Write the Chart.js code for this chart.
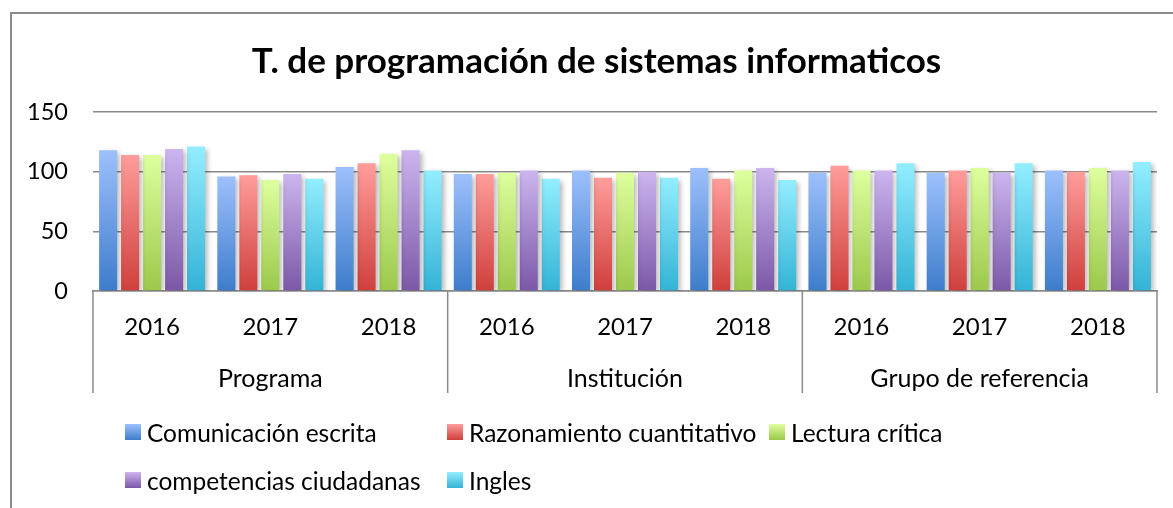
<!DOCTYPE html>
<html>
<head>
<meta charset="utf-8">
<script src="https://cdn.jsdelivr.net/npm/chart.js@4.4.1/dist/chart.umd.min.js"></script>
<style>
  html, body { margin: 0; padding: 0; background: #fff; overflow: hidden; }
  #wrap { position: relative; width: 1173px; height: 508px; }
  #frame { position: absolute; left: 10px; top: 12px; width: 1250px; height: 600px; border: 2px solid #8c8c8c; box-sizing: border-box; }
  canvas { position: absolute; left: 0; top: 0; }
  .lg { position: absolute; display: flex; align-items: center; height: 30px; font-family: Lato, sans-serif; font-size: 24.5px; color: #000; white-space: nowrap; }
  .sw { width: 16px; height: 16px; margin-right: 6px; }
</style>
</head>
<body>
<div id="wrap">
  <div id="frame"></div>
  <canvas id="c" width="1173" height="508"></canvas>
  <div id="legend"></div>
</div>
<script>
const years = ['2016', '2017', '2018', '2016', '2017', '2018', '2016', '2017', '2018'];
const groups = ['Programa', 'Institución', 'Grupo de referencia'];
const seriesNames = ['Comunicación escrita', 'Razonamiento cuantitativo', 'Lectura crítica', 'competencias ciudadanas', 'Ingles'];
const comunicacion = [118, 96, 104, 98, 101, 103, 99, 99, 101];
const razonamiento = [114, 97, 107, 98, 95, 94, 105, 101, 100];
const lectura = [114, 93, 115, 99, 99, 101, 101, 103, 103];
const competencias = [119, 98, 118, 101, 100, 103, 101, 99, 101];
const ingles = [121, 94, 101, 94, 95, 93, 107, 107, 108];
const yTicks = [0, 50, 100, 150];

const palette = [
  ['#9DC0FC', '#3D7CCB'],
  ['#FF9D9B', '#CF3F3C'],
  ['#DEFF9E', '#9CC84B'],
  ['#CCB5EF', '#7B58A7'],
  ['#93EEFF', '#33B3D6']
];
const seriesData = [comunicacion, razonamiento, lectura, competencias, ingles];

function barGradient(idx) {
  return function (ctx) {
    const chart = ctx.chart;
    const ca = chart.chartArea;
    if (!ca || ctx.raw === undefined) return palette[idx][1];
    const ys = chart.scales.y;
    const yTop = ys.getPixelForValue(ctx.raw);
    const yBot = ys.getPixelForValue(0);
    const g = chart.ctx.createLinearGradient(0, yTop, 0, yBot);
    g.addColorStop(0, palette[idx][0]);
    g.addColorStop(1, palette[idx][1]);
    return g;
  };
}

const datasets = seriesData.map((d, i) => ({
  label: seriesNames[i],
  data: d,
  backgroundColor: barGradient(i),
  borderWidth: 0,
  categoryPercentage: 0.93,
  barPercentage: 0.82
}));

const FONT = 'Lato';
const AXIS_GRAY = '#8a8a8a';

const shadowPlugin = {
  id: 'shadow',
  beforeDatasetsDraw(chart) {
    const c = chart.ctx;
    c.save();
    c.shadowColor = 'rgba(0,0,0,0.28)';
    c.shadowBlur = 5;
    c.shadowOffsetX = 3;
    c.shadowOffsetY = 2;
  },
  afterDatasetsDraw(chart) {
    chart.ctx.restore();
  }
};

const separatorPlugin = {
  id: 'separators',
  afterLayout(chart) {
    // centre the title over the framed chart box like the original
    if (chart.titleBlock) chart.titleBlock.left = 36;
  },
  afterDraw(chart) {
    const xs = chart.scales.x;
    const x2 = chart.scales.x2;
    const c = chart.ctx;
    c.save();
    c.strokeStyle = AXIS_GRAY;
    c.lineWidth = 1.5;
    const n = years.length;
    for (let i = 0; i <= n; i += 3) {
      const px = xs.left + i * xs.width / n;
      c.beginPath();
      c.moveTo(px, xs.top);
      c.lineTo(px, x2.bottom);
      c.stroke();
    }
    c.restore();
  }
};

new Chart(document.getElementById('c'), {
  type: 'bar',
  data: { labels: years, datasets },
  plugins: [shadowPlugin, separatorPlugin],
  options: {
    responsive: false,
    animation: false,
    layout: { padding: { left: 0, right: 16, top: 0, bottom: 115 } },
    plugins: {
      legend: { display: false },
      tooltip: { enabled: false },
      title: {
        display: true,
        text: 'T. de programación de sistemas informaticos',
        color: '#000',
        font: { family: FONT, size: 35, weight: 'bold' },
        padding: { top: 41, bottom: 29 }
      }
    },
    scales: {
      y: {
        min: 0,
        max: 150,
        afterBuildTicks(scale) { scale.ticks = yTicks.map(v => ({ value: v })); },
        afterFit(scale) { scale.width = 93; },
        ticks: { color: '#000', font: { family: FONT, size: 23.5 }, padding: 25 },
        grid: { color: AXIS_GRAY, lineWidth: 1.5, drawTicks: false },
        border: { display: false }
      },
      x: {
        position: 'bottom',
        afterFit(scale) { scale.height = 52; },
        ticks: { color: '#000', font: { family: FONT, size: 24 }, padding: 22, maxRotation: 0, autoSkip: false },
        grid: { display: false, drawTicks: false },
        border: { display: true, color: AXIS_GRAY, width: 1.5 }
      },
      x2: {
        type: 'category',
        position: 'bottom',
        labels: groups,
        offset: true,
        afterFit(scale) { scale.height = 50; },
        ticks: { color: '#000', font: { family: FONT, size: 25 }, padding: 21, maxRotation: 0, autoSkip: false },
        grid: { display: false, drawTicks: false },
        border: { display: false }
      }
    }
  }
});

// HTML legend
const legendPos = [
  { left: 125, cy: 432 }, { left: 447, cy: 432 }, { left: 769, cy: 432 },
  { left: 125, cy: 480 }, { left: 447, cy: 480 }
];
const lg = document.getElementById('legend');
seriesNames.forEach((name, i) => {
  const item = document.createElement('div');
  item.className = 'lg';
  item.style.left = legendPos[i].left + 'px';
  item.style.top = (legendPos[i].cy - 15) + 'px';
  const sw = document.createElement('div');
  sw.className = 'sw';
  sw.style.background = 'linear-gradient(to bottom, ' + palette[i][0] + ', ' + palette[i][1] + ')';
  const tx = document.createElement('span');
  tx.textContent = name;
  item.appendChild(sw);
  item.appendChild(tx);
  lg.appendChild(item);
});
</script>
</body>
</html>
